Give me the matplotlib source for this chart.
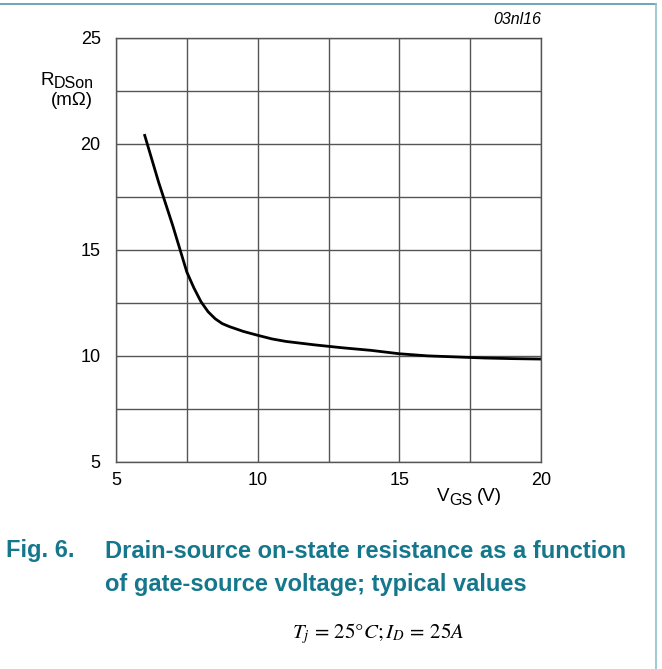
import matplotlib
matplotlib.use('Agg')
import matplotlib.pyplot as plt
from matplotlib.lines import Line2D

# values
vgs = [6.0, 6.5, 7.0, 7.25, 7.5, 7.75, 8.0, 8.25, 8.5, 8.75, 9.0, 9.5, 10.0, 10.5, 11.0, 12.0, 13.0, 14.0, 15.0, 16.0, 17.0, 18.0, 19.0, 20.0]
rdson = [20.45, 18.2, 16.15, 15.05, 13.95, 13.2, 12.55, 12.08, 11.75, 11.52, 11.38, 11.15, 10.97, 10.8, 10.68, 10.52, 10.38, 10.26, 10.1, 10.0, 9.95, 9.9, 9.87, 9.85]
x_ticks = [5, 10, 15, 20]
y_ticks = [5, 10, 15, 20, 25]

plt.rcParams['font.family'] = ['Liberation Sans', 'DejaVu Sans']

W, H = 662, 669
fig = plt.figure(figsize=(W / 100, H / 100), dpi=100)
ax = fig.add_axes([116 / W, 1 - 462 / H, (541 - 116) / W, (462 - 37.5) / H])


def px(x, y):
    # pixel position -> figure fraction
    return x / W, 1 - y / H


ax.plot(vgs, rdson, color='black', lw=2.0, solid_capstyle='butt', solid_joinstyle='round')
ax.set_xlim(5, 20)
ax.set_ylim(5, 25)
ax.set_xticks(x_ticks)
ax.set_yticks(y_ticks)
ax.set_xticks([x + 2.5 for x in x_ticks[:-1]], minor=True)
ax.set_yticks([y + 2.5 for y in y_ticks[:-1]], minor=True)
ax.grid(True, which='both', color='#555555', lw=1.0)
ax.tick_params(which='both', length=0, labelsize=13, colors='black')
ax.tick_params(axis='x', pad=7.5)
ax.tick_params(axis='y', pad=11)
for s in ax.spines.values():
    s.set_color('#555555')
    s.set_linewidth(1.0)

fig.text(*px(541, 20), '03nl16', style='italic', fontsize=11.5, ha='right', va='center')

# axis titles with large subscripts
fig.text(*px(40, 85), 'R', fontsize=13.5, va='baseline')
fig.text(*px(53.5, 88.5), 'DSon', fontsize=11.5, va='baseline')
fig.text(*px(71.5, 105), '(m\u03a9)', fontsize=13.5, ha='center', va='baseline')
fig.text(*px(437, 501), 'V', fontsize=13.5, va='baseline')
fig.text(*px(449.5, 505), 'GS', fontsize=11.5, va='baseline')
fig.text(*px(476.5, 501), '(V)', fontsize=13.5, va='baseline')

teal = '#15778c'
fig.text(*px(6, 551), 'Fig. 6.', color=teal, fontsize=17, fontweight='bold', va='center')
fig.text(*px(105, 551), 'Drain-source on-state resistance as a function',
         color=teal, fontsize=17, fontweight='bold', va='center')
fig.text(*px(105, 584), 'of gate-source voltage; typical values',
         color=teal, fontsize=17, fontweight='bold', va='center')

fig.text(*px(378, 634), r'$T_j\,=\,25\degree C;I_D\,=\,25A$', fontsize=15,
         ha='center', va='center', math_fontfamily='stix')

# page frame lines
fig.add_artist(Line2D([0, 655.5 / W], [1 - 4 / H, 1 - 4 / H], color='#4f9aaa', lw=1.2, transform=fig.transFigure))
fig.add_artist(Line2D([655.5 / W, 655.5 / W], [0, 1 - 4 / H], color='#8fc0cc', lw=1.2, transform=fig.transFigure))

fig.savefig('out.png', dpi=100)
